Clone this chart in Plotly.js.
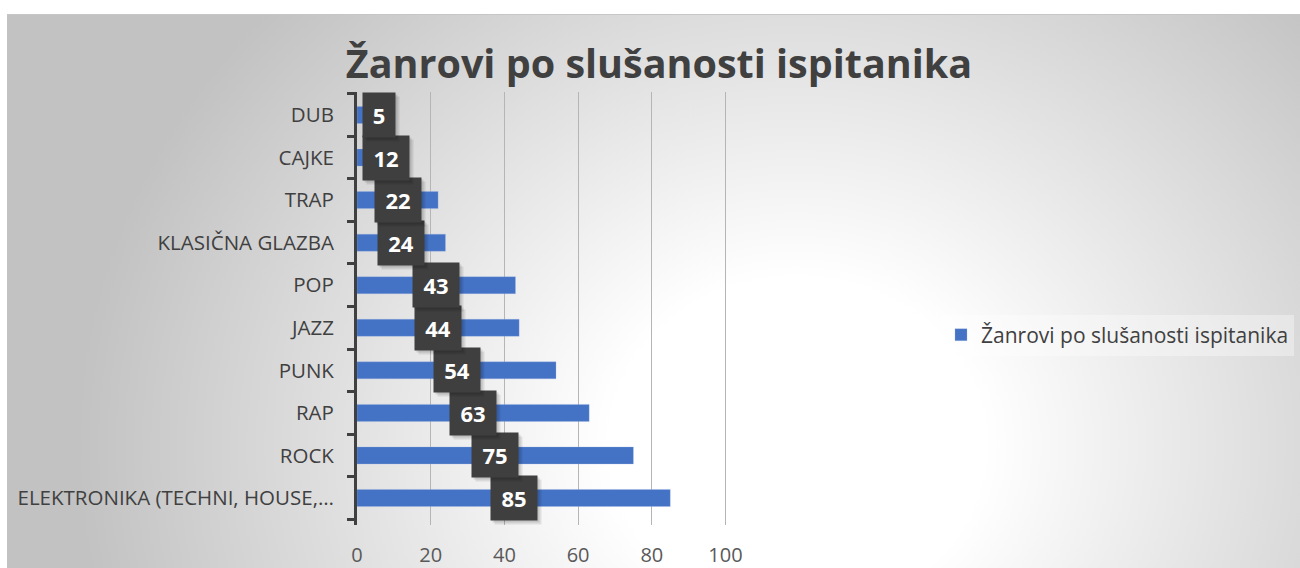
<!DOCTYPE html>
<html>
<head>
<meta charset="utf-8">
<script src="https://cdn.plot.ly/plotly-3.0.1.min.js"></script>
<style>
  html, body { margin:0; padding:0; background:#ffffff; width:1300px; height:568px; overflow:hidden; }
  #bg { position:absolute; left:7px; top:14px; width:1293px; height:554px;
        border-top:1px solid #c6c6c6;
        background: radial-gradient(ellipse 720px 640px at 790px 430px, #ffffff 0%, #ffffff 26%, #c2c2c2 100%); }
  #chart { position:absolute; left:0; top:0; width:1300px; height:568px; }
</style>
</head>
<body>
<div id="bg"></div>
<div id="chart"></div>
<script>
// Data (bottom-to-top order as drawn by Plotly)
const categories = ["ELEKTRONIKA (TECHNI, HOUSE,…", "ROCK", "RAP", "PUNK", "JAZZ", "POP", "KLASIČNA GLAZBA", "TRAP", "CAJKE", "DUB"];
const values = [85, 75, 63, 54, 44, 43, 24, 22, 12, 5];
const seriesName = "Žanrovi po slušanosti ispitanika";
const chartTitle = "Žanrovi po slušanosti ispitanika";
const xTicks = [0, 20, 40, 60, 80, 100];

const W = 1300, H = 568;
const pxPerUnit = 3.69;
const xMax = 100.4;
const plotL = 357, plotT = 92, plotB = 525;
const margin = {l: plotL, r: Math.round(W - plotL - xMax * pxPerUnit), t: plotT, b: H - plotB, autoexpand: false};
const plotW = W - margin.l - margin.r;
const plotH = plotB - plotT;

const font = "Open Sans, Noto Sans, sans-serif";

const annotations = [];
const boxH = 42;
const minLeftPx = 7;
categories.forEach((c, i) => {
  const v = values[i];
  const label = String(v);
  const boxW = label.length === 1 ? 30 : 44;
  const centerPx = (v / 2) * (plotW / xMax);
  const shift = Math.max(0, minLeftPx + boxW / 2 - centerPx);
  const base = {x: v / 2, y: c, xref: 'x', yref: 'y', showarrow: false,
                width: boxW, height: boxH, xanchor: 'center', yanchor: 'middle', valign: 'middle'};
  annotations.push(Object.assign({}, base, {text: '', bgcolor: 'rgba(0,0,0,0.09)', xshift: shift + 4, yshift: -4}));
  annotations.push(Object.assign({}, base, {text: '', bgcolor: 'rgba(0,0,0,0.11)', xshift: shift + 2, yshift: -2}));
  annotations.push(Object.assign({}, base, {text: '<b>' + label + '</b>', bgcolor: '#3f3f3f', xshift: shift,
     font: {family: font, size: 22, color: '#ffffff'}}));
});

const trace = {
  type: 'bar', orientation: 'h',
  x: values, y: categories, name: seriesName,
  marker: {color: '#4472C4', line: {color: 'rgba(160,185,230,0.6)', width: 0.5}},
  hoverinfo: 'x+y', showlegend: true
};

const layout = {
  width: W, height: H,
  margin: margin,
  paper_bgcolor: 'rgba(0,0,0,0)',
  plot_bgcolor: 'rgba(0,0,0,0)',
  bargap: 0.6,
  title: {text: '<b>' + chartTitle + '</b>', x: 659 / W, xanchor: 'center', y: 1 - 64 / H, yanchor: 'middle',
          font: {family: font, size: 39.5, color: '#404040'}},
  xaxis: {range: [0, xMax], tickvals: xTicks, ticktext: xTicks.map(String), showgrid: true, gridcolor: '#b5b5b5', gridwidth: 1,
          zeroline: false, showline: false, ticks: '', ticklabelstandoff: 16,
          tickfont: {family: font, size: 20, color: '#595959'}, fixedrange: true},
  yaxis: {type: 'category', categoryorder: 'array', categoryarray: categories, showline: true, linecolor: '#404040', linewidth: 3,
          ticks: 'outside', tickson: 'boundaries', ticklen: 7, tickwidth: 3, tickcolor: '#404040', ticklabelstandoff: 16,
          showgrid: false, zeroline: false, tickfont: {family: font, size: 20.5, color: '#404040'}, fixedrange: true},
  legend: {x: 941 / W, xref: 'container', y: 1 - 335 / H, yref: 'container', yanchor: 'middle', xanchor: 'left',
           bgcolor: 'rgba(255,255,255,0.35)', font: {family: font, size: 21, color: '#404040'}},
  annotations: annotations,
  showlegend: true
};

Plotly.newPlot('chart', [trace], layout, {displayModeBar: false, staticPlot: true});
</script>
</body>
</html>
